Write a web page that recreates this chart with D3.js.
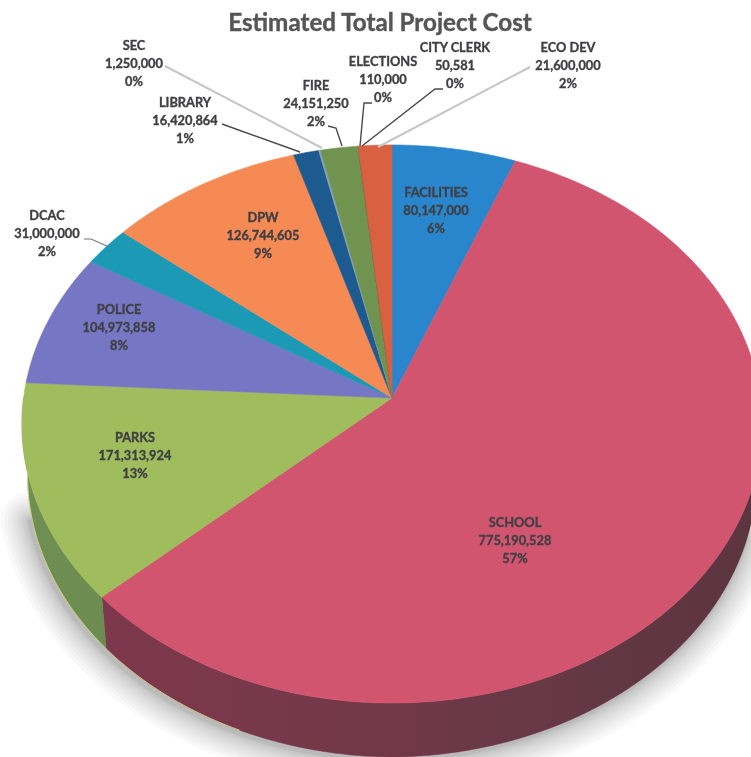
<!DOCTYPE html>
<html><head><meta charset="utf-8">
<script src="https://cdnjs.cloudflare.com/ajax/libs/d3/7.8.5/d3.min.js"></script>
<style>html,body{margin:0;padding:0;background:#fff}svg{display:block}</style></head>
<body><svg id="c" width="751" height="757"></svg>
<script>
const categories=["FACILITIES","SCHOOL","PARKS","POLICE","DCAC","DPW","LIBRARY","SEC","FIRE","ELECTIONS","CITY CLERK","ECO DEV"];
const values=[80147000,775190528,171313924,104973858,31000000,126744605,16420864,1250000,24151250,110000,50581,21600000];
const valueLabels=["80,147,000","775,190,528","171,313,924","104,973,858","31,000,000","126,744,605","16,420,864","1,250,000","24,151,250","110,000","50,581","21,600,000"];
const percentLabels=["6%","57%","13%","8%","2%","9%","1%","0%","2%","0%","0%","2%"];
const topColors=["#2a86cc","#d2546f","#9fbd5c","#7677c4","#1b9ab5","#f58a55","#1f5a90","#8aa0b8","#6f9350","#c04a3a","#4f7f50","#d9603f"];
const sideColors=["#1c5a8c","#80394e","#6f8f52","#565890","#1a7080","#b0643c","#153f66","#667","#4d6a38","#8a3529","#3a5c3a","#9c4530"];
const titleText="Estimated Total Project Cost";

const svg=d3.select("#c");
const defs=svg.append("defs");
defs.append("filter").attr("id","soft").append("feGaussianBlur").attr("stdDeviation",0.45);
const g1=defs.append("linearGradient").attr("id","sideShade").attr("x1",0).attr("x2",1).attr("y1",0).attr("y2",0);
g1.append("stop").attr("offset","0%").attr("stop-color","#333").attr("stop-opacity",0);
g1.append("stop").attr("offset","35%").attr("stop-color","#333").attr("stop-opacity",0.12);
g1.append("stop").attr("offset","100%").attr("stop-color","#333").attr("stop-opacity",0.5);

// perspective view of a tilted disc
const apex={x:392,y:398}, A=368.4, B=276.6, K=0.0932, depth=54;
function project(angle,r=1){
  const u=r*Math.sin(angle), v=r*Math.cos(angle), w=1+K*v;
  return [apex.x+A*u/w, apex.y-B*v/w];
}
const ell={x:392,y:424};
function lower(p){ // matching point on the bottom rim of the pie
  return [ell.x+(p[0]-ell.x)*0.985, p[1]+depth-(Math.abs(p[0]-ell.x)/370)*3];
}
const pie=d3.pie().sort(null).value(d=>d)(values);
const line=d3.line();
function arcPts(a0,a1){
  const n=Math.max(2,Math.ceil((a1-a0)/0.01));
  return d3.range(n+1).map(i=>project(a0+(a1-a0)*i/n));
}

// soft shadow along the lower rim, built from stacked translucent strokes
const shadowRim=arcPts(Math.PI*0.6,Math.PI*1.42).map(p=>{const q=lower(p);return [q[0]-2,q[1]+2]});
const shadowG=svg.append("g");
d3.range(1,15).forEach(k=>{
  shadowG.append("path").attr("d",line(shadowRim)).attr("fill","none")
    .attr("stroke","#70707e").attr("stroke-opacity",.045)
    .attr("stroke-linecap","round").attr("stroke-linejoin","round")
    .attr("stroke-width",k*k*0.28+4);
});

const chart=svg.append("g").attr("filter","url(#soft)");
// side walls (only the front-facing rim)
const frontStart=Math.PI*0.5, frontEnd=Math.PI*1.5;
pie.forEach((s,i)=>{
  const a0=Math.max(s.startAngle,frontStart),a1=Math.min(s.endAngle,frontEnd);
  if(a1<=a0)return;
  const t=arcPts(a0,a1), b=t.map(lower).reverse();
  chart.append("path").attr("d",line(t.concat(b))+"Z").attr("fill",sideColors[i]).attr("stroke",sideColors[i]).attr("stroke-width",.5);
});
const wall=arcPts(frontStart,frontEnd);
chart.append("path").attr("d",line(wall.concat(wall.map(lower).reverse()))+"Z").attr("fill","url(#sideShade)");
chart.append("path").attr("d",line(wall.filter(p=>p[0]<240).map(lower))).attr("fill","none").attr("stroke","#e6e48c").attr("stroke-width",1).attr("opacity",.8);
// top face
pie.forEach((s,i)=>{
  const pts=[[apex.x,apex.y]].concat(arcPts(s.startAngle,s.endAngle));
  chart.append("path").attr("d",line(pts)+"Z").attr("fill",topColors[i])
    .attr("stroke",topColors[i]).attr("stroke-width",.6).attr("stroke-linejoin","round");
});

// leader lines
const leaders=[
 {c:"SEC",pts:[[165,66],[322,148]],color:"#c4c6c8",w:2},
 {c:"LIBRARY",pts:[[222,124],[300,152]],color:"#4a4a4a",w:1.4},
 {c:"FIRE",pts:[[328,126],[336,128],[342,146]],color:"#4a4a4a",w:1.4},
 {c:"ELECTIONS",pts:[[372,103],[364,103],[360,146]],color:"#4a4a4a",w:1.4},
 {c:"CITY CLERK",pts:[[443,89],[435,89],[362,146]],color:"#4a4a4a",w:1.4},
 {c:"ECO DEV",pts:[[530,67],[378,147]],color:"#c4c6c8",w:2},
 {c:"DCAC",pts:[[84,239],[91,239],[107,246]],color:"#777",w:1.1}
];
const lg=svg.append("g").attr("filter","url(#soft)");
leaders.forEach(l=>lg.append("path").attr("d",line(l.pts)).attr("fill","none").attr("stroke",l.color).attr("stroke-width",l.w));

// labels: centre x and baseline of the first row
const labelPlace={"SEC":[134,50],"LIBRARY":[185,107],"FIRE":[316,90],"ELECTIONS":[383,66],"CITY CLERK":[455,52],"ECO DEV":[568,52],
 "FACILITIES":[436,197],"DPW":[263,222],"DCAC":[47,220],"POLICE":[119,314],"PARKS":[135,442],"SCHOOL":[515,527]};
const labelsG=svg.append("g").attr("filter","url(#soft)");
categories.forEach((c,i)=>{
  const [x,y]=labelPlace[c];
  const t=labelsG.append("text").attr("text-anchor","middle").attr("x",x).attr("y",y)
    .attr("font-family","Lato, 'Open Sans', sans-serif").attr("font-weight",700).attr("font-size",12.8)
    .attr("fill","#3f3f44").attr("stroke","#3f3f44").attr("stroke-width",.35);
  [c,valueLabels[i],percentLabels[i]].forEach((s,j)=>t.append("tspan").attr("x",x).attr("y",y+j*18.2).text(s));
});
svg.append("text").attr("x",380).attr("y",31).attr("text-anchor","middle")
 .attr("font-family","Lato, sans-serif").attr("font-weight",700).attr("font-size",24.2).attr("fill","#555")
 .attr("stroke","#555").attr("stroke-width",.4).attr("filter","url(#soft)").text(titleText);
</script></body></html>
